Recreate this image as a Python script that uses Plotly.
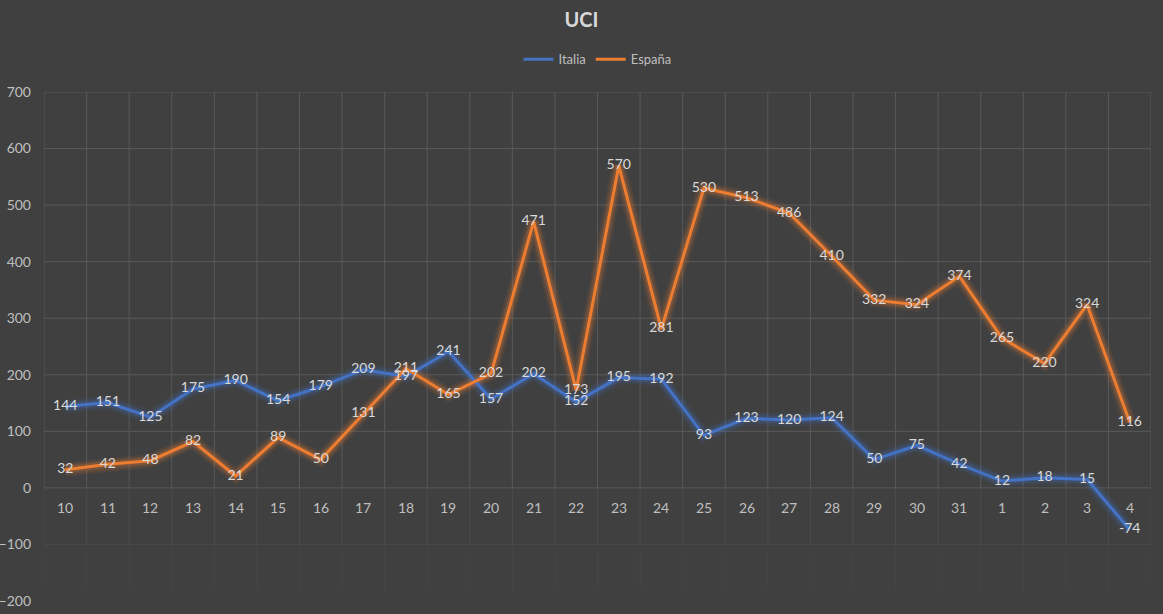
import plotly.graph_objects as go

categories = ["10","11","12","13","14","15","16","17","18","19","20","21","22","23","24",
              "25","26","27","28","29","30","31","1","2","3","4"]
italia = [144,151,125,175,190,154,179,209,197,241,157,202,152,195,192,93,123,120,124,50,75,42,12,18,15,-74]
espana = [32,42,48,82,21,89,50,131,211,165,202,471,173,570,281,530,513,486,410,332,324,374,265,220,324,116]
y_ticks = [-200,-100,0,100,200,300,400,500,600,700]

BG = "#404040"
FONT = "Lato"
x = list(range(len(categories)))
n = len(categories)

fig = go.Figure()

series = [("Italia", italia, "#4472C4"), ("España", espana, "#ED7D31")]
# glow
for name, vals, col in series:
    r, g, b = int(col[1:3], 16), int(col[3:5], 16), int(col[5:7], 16)
    for w, a in [(14, 0.08), (10, 0.12), (7, 0.18)]:
        fig.add_trace(go.Scatter(x=x, y=vals, mode="lines", showlegend=False, hoverinfo="skip",
                                 line=dict(color=f"rgba({r},{g},{b},{a})", width=w, shape="linear")))
for name, vals, col in series:
    fig.add_trace(go.Scatter(x=x, y=vals, mode="lines", name=name,
                             line=dict(color=col, width=3)))
for name, vals, col in series:
    fig.add_trace(go.Scatter(x=x, y=vals, mode="text", showlegend=False, hoverinfo="skip",
                             text=[str(v) for v in vals], textposition="middle center",
                             textfont=dict(color="#d9d9d9", size=14, family=FONT)))

shapes = []
# horizontal gridlines
for v in y_ticks:
    if v >= 0:
        shapes.append(dict(type="line", xref="paper", x0=0, x1=1, yref="y", y0=v, y1=v,
                           line=dict(color="#595959", width=1), layer="below"))
    elif v == -100:
        shapes.append(dict(type="line", xref="paper", x0=0, x1=1, yref="y", y0=v, y1=v,
                           line=dict(color="#494949", width=1), layer="below"))
# vertical gridlines
for i in range(n + 1):
    xb = i - 0.5
    shapes.append(dict(type="line", x0=xb, x1=xb, y0=0, y1=700,
                       line=dict(color="#595959", width=1), layer="below"))
    shapes.append(dict(type="line", x0=xb, x1=xb, y0=-100, y1=0,
                       line=dict(color="#4b4b4b", width=1), layer="below"))
    shapes.append(dict(type="line", x0=xb, x1=xb, y0=-180, y1=-100,
                       line=dict(color="#454545", width=1), layer="below"))

annotations = [dict(x=i, y=0, text=c, showarrow=False, yshift=-20, xref="x", yref="y",
                    font=dict(color="#bfbfbf", size=14, family=FONT))
               for i, c in enumerate(categories)]

fig.update_layout(
    width=1163, height=614,
    paper_bgcolor=BG, plot_bgcolor=BG,
    margin=dict(l=44, r=12, t=92, b=13),
    title=dict(text="<b>UCI</b>", x=0.5, xanchor="center", y=0.968, yanchor="middle",
               font=dict(color="#d9d9d9", size=20, family=FONT)),
    legend=dict(orientation="h", x=0.5, xanchor="center", y=1.064, yanchor="middle",
                font=dict(color="#bfbfbf", size=13, family=FONT), bgcolor="rgba(0,0,0,0)"),
    xaxis=dict(range=[-0.5, n - 0.5], showgrid=False, zeroline=False, showticklabels=False,
               fixedrange=True, automargin=False),
    yaxis=dict(range=[-200, 700], tickvals=y_ticks, showgrid=False, zeroline=False,
               tickfont=dict(color="#bfbfbf", size=14, family=FONT), ticks="",
               ticklabelstandoff=12, automargin=False),
    shapes=shapes, annotations=annotations,
    showlegend=True,
)

fig.write_html("out.html", config={"displayModeBar": False},
               post_script="document.body.style.margin='0';document.body.style.background='#404040';")
